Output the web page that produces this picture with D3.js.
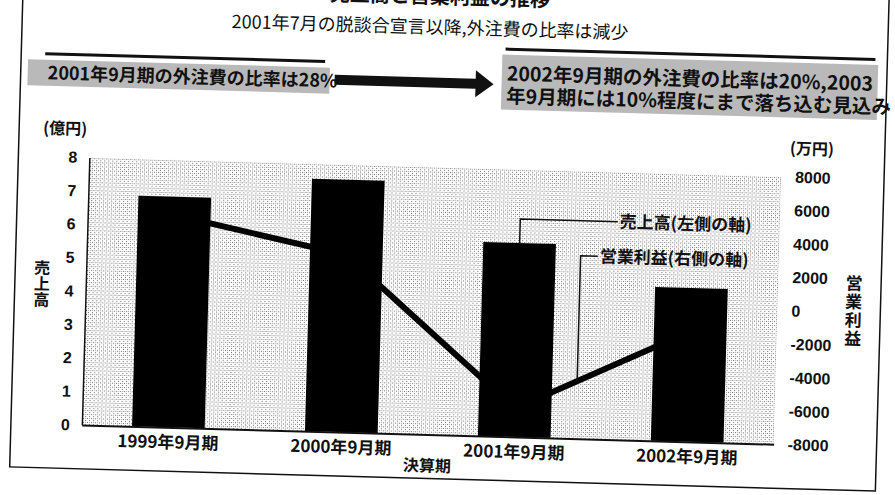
<!DOCTYPE html>
<html>
<head>
    <meta charset="utf-8">
    <title>売上高と営業利益の推移</title>
    <script src="https://cdnjs.cloudflare.com/ajax/libs/d3/7.8.5/d3.min.js"></script>
    <style>
        body {
            margin: 0;
            background: white;
            font-family: "Noto Sans CJK JP", "Liberation Sans", sans-serif;
        }
        .jp {
            font-family: "Noto Sans CJK JP", sans-serif;
            font-weight: bold;
            fill: #111;
        }
        .num {
            font-family: "Liberation Sans", Arial, sans-serif;
            font-weight: bold;
            font-size: 16px;
            fill: #111;
        }
    </style>
</head>
<body>
    <div id="chart"></div>
    <script>
        // 決算期ごとの値
        const periods = ["1999年9月期", "2000年9月期", "2001年9月期", "2002年9月期"];
        const sales = [6.9, 7.55, 5.8, 4.6];          // 売上高（億円）
        const profit = [4700, 2600, -6300, -1400];    // 営業利益（万円）
        const salesTicks = [0, 1, 2, 3, 4, 5, 6, 7, 8];
        const profitTicks = [-8000, -6000, -4000, -2000, 0, 2000, 4000, 6000, 8000];

        const W = 895, H = 495;
        const plot = { left: 87, right: 779, top: 167.5, bottom: 435 };

        const svg = d3.select("#chart")
            .append("svg")
            .attr("width", W)
            .attr("height", H);

        const defs = svg.append("defs");
        // halftone look of the scanned background
        const pat = defs.append("pattern")
            .attr("id", "halftone")
            .attr("width", 4)
            .attr("height", 4)
            .attr("patternUnits", "userSpaceOnUse");
        pat.append("rect").attr("width", 4).attr("height", 4).attr("fill", "#fff");
        pat.append("rect").attr("x", 0).attr("y", 0).attr("width", 1).attr("height", 1).attr("fill", "#555");
        pat.append("rect").attr("x", 2).attr("y", 2).attr("width", 1).attr("height", 1).attr("fill", "#555");
        pat.append("rect").attr("x", 2).attr("y", 0).attr("width", 1).attr("height", 1).attr("fill", "#999");

        // the whole page is scanned slightly tilted
        const g = svg.append("g")
            .attr("transform", "rotate(1.6, 447, 247)");

        // outer frame
        g.append("rect")
            .attr("x", 16).attr("y", -30)
            .attr("width", 866).attr("height", 509)
            .attr("fill", "none")
            .attr("stroke", "#111")
            .attr("stroke-width", 1.5);

        // title (top cut off in the scan) and subtitle
        g.append("text")
            .attr("class", "jp")
            .attr("x", 433).attr("y", 4)
            .attr("text-anchor", "middle")
            .style("font-size", "20px")
            .text("売上高と営業利益の推移");

        g.append("text")
            .attr("class", "jp")
            .attr("x", 424).attr("y", 34)
            .attr("text-anchor", "middle")
            .style("font-size", "18px")
            .style("font-weight", "normal")
            .text("2001年7月の脱談合宣言以降,外注費の比率は減少");

        // left note box
        g.append("rect")
            .attr("x", 23).attr("y", 71)
            .attr("width", 302).attr("height", 26)
            .attr("fill", "#b9b9b9");
        g.append("line")
            .attr("x1", 40).attr("x2", 320)
            .attr("y1", 65).attr("y2", 65)
            .attr("stroke", "#111").attr("stroke-width", 3);
        g.append("text")
            .attr("class", "jp")
            .attr("x", 43).attr("y", 90.5)
            .style("font-size", "18px")
            .text("2001年9月期の外注費の比率は28%");

        // arrow
        g.append("path")
            .attr("d", "M330,78 L471,78 L471,69.5 L489,83 L471,96.5 L471,88 L330,88 Z")
            .attr("fill", "#111");

        // right note box
        g.append("rect")
            .attr("x", 497).attr("y", 53)
            .attr("width", 376).attr("height", 55)
            .attr("fill", "#b9b9b9");
        g.append("line")
            .attr("x1", 500).attr("x2", 870)
            .attr("y1", 47.5).attr("y2", 47.5)
            .attr("stroke", "#111").attr("stroke-width", 3);
        const noteLines = ["2002年9月期の外注費の比率は20%,2003", "年9月期には10%程度にまで落ち込む見込み"];
        noteLines.forEach((t, i) => {
            g.append("text")
                .attr("class", "jp")
                .attr("x", 502).attr("y", 79 + i * 22.5)
                .style("font-size", "19.5px")
                .text(t);
        });

        // scales
        const x = d3.scaleBand()
            .domain(periods)
            .range([plot.left, plot.right])
            .paddingInner(0.58)
            .paddingOuter(0.29);

        const yL = d3.scaleLinear()
            .domain([0, 8])
            .range([plot.bottom, plot.top]);

        const yR = d3.scaleLinear()
            .domain([-8000, 8000])
            .range([plot.bottom, plot.top]);

        // plot background
        g.append("rect")
            .attr("x", plot.left).attr("y", plot.top)
            .attr("width", plot.right - plot.left)
            .attr("height", plot.bottom - plot.top)
            .attr("fill", "url(#halftone)")
            .attr("opacity", 0.85);

        const cx = d => x(d) + x.bandwidth() / 2;

        // operating profit line (behind the bars)
        const line = d3.line()
            .x((d, i) => cx(periods[i]))
            .y(d => yR(d));

        g.append("path")
            .datum(profit)
            .attr("d", line)
            .attr("fill", "none")
            .attr("stroke", "#000")
            .attr("stroke-width", 6);

        // sales bars
        g.selectAll(".bar")
            .data(sales)
            .join("rect")
            .attr("class", "bar")
            .attr("x", (d, i) => x(periods[i]))
            .attr("y", d => yL(d))
            .attr("width", x.bandwidth())
            .attr("height", d => yL(0) - yL(d))
            .attr("fill", "#000");

        // left axis
        const axL = g.append("g")
            .attr("transform", `translate(${plot.left},0)`)
            .call(d3.axisLeft(yL).tickValues(salesTicks).tickSize(0).tickSizeOuter(0).tickPadding(12));
        axL.select(".domain").attr("stroke", "#111").attr("stroke-width", 1.5);
        axL.selectAll("text").attr("class", "num").attr("fill", null);

        // right axis (plain numbers, ascii minus as in the original)
        const axR = g.append("g")
            .attr("transform", `translate(${plot.right},0)`)
            .call(d3.axisRight(yR).tickValues(profitTicks).tickFormat(d => String(d))
                .tickSize(0).tickPadding(14));
        axR.select(".domain").remove();
        axR.selectAll("text").attr("class", "num").attr("fill", null);

        // bottom axis
        const axB = g.append("g")
            .attr("transform", `translate(0,${plot.bottom})`)
            .call(d3.axisBottom(x).tickSize(0).tickSizeOuter(0).tickPadding(9));
        axB.select(".domain").attr("stroke", "#111").attr("stroke-width", 2);
        axB.selectAll("text")
            .attr("class", "jp")
            .attr("fill", null)
            .style("font-size", "17px");

        // units and axis titles
        g.append("text").attr("class", "jp")
            .attr("x", 62).attr("y", 145)
            .attr("text-anchor", "middle")
            .style("font-size", "16px")
            .text("(億円)");
        g.append("text").attr("class", "jp")
            .attr("x", 809).attr("y", 144.5)
            .attr("text-anchor", "middle")
            .style("font-size", "16px")
            .text("(万円)");

        g.append("text").attr("class", "jp")
            .attr("x", (plot.left + plot.right) / 2).attr("y", 472)
            .attr("text-anchor", "middle")
            .style("font-size", "16px")
            .text("決算期");

        Array.from("売上高").forEach((ch, i) => {
            g.append("text").attr("class", "jp")
                .attr("x", 43).attr("y", 285 + i * 16)
                .attr("text-anchor", "middle")
                .style("font-size", "16px")
                .text(ch);
        });
        Array.from("営業利益").forEach((ch, i) => {
            g.append("text").attr("class", "jp")
                .attr("x", 855).attr("y", 278 + i * 18.5)
                .attr("text-anchor", "middle")
                .style("font-size", "17px")
                .text(ch);
        });

        // legend callouts
        const salesX = cx(periods[2]);
        const salesLabelY = 217;
        g.append("path")
            .attr("d", `M${salesX},${yL(sales[2])} V${salesLabelY} H617`)
            .attr("fill", "none")
            .attr("stroke", "#111")
            .attr("stroke-width", 1.5);
        g.append("text").attr("class", "jp")
            .attr("x", 619).attr("y", salesLabelY + 6)
            .style("font-size", "17px")
            .text("売上高(左側の軸)");

        // profit callout: drop to the line between 2001 and 2002
        const px = x(periods[2]) + x.bandwidth() + 25;
        const x3 = cx(periods[2]), x4 = cx(periods[3]);
        const t = (px - x3) / (x4 - x3);
        const py = yR(profit[2]) + t * (yR(profit[3]) - yR(profit[2]));
        const profitLabelY = 252;
        g.append("path")
            .attr("d", `M${px},${py} V${profitLabelY} H598`)
            .attr("fill", "none")
            .attr("stroke", "#111")
            .attr("stroke-width", 1.5);
        g.append("text").attr("class", "jp")
            .attr("x", 600).attr("y", profitLabelY + 6)
            .style("font-size", "17px")
            .text("営業利益(右側の軸)");
    </script>
</body>
</html>
